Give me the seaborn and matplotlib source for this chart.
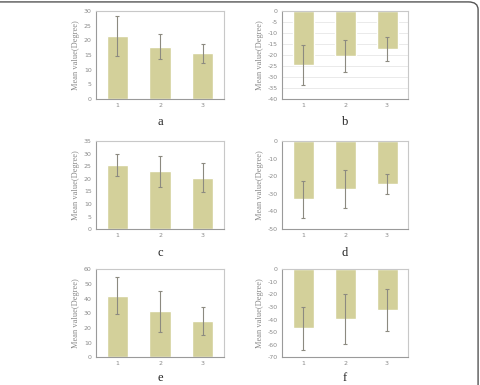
import numpy as np
import pandas as pd
import seaborn as sns
import matplotlib.pyplot as plt
from matplotlib.patches import FancyBboxPatch

groups = ["1", "2", "3"]

mean_a = [21.5, 17.8, 15.5]
err_a = [6.7, 4.2, 3.2]
mean_b = [-24.5, -20.5, -17.2]
err_b = [9.0, 7.1, 5.4]
mean_c = [25.5, 23.0, 20.5]
err_c = [4.5, 6.2, 5.8]
mean_d = [-33.0, -27.2, -24.5]
err_d = [10.5, 10.6, 5.7]
mean_e = [42.0, 31.5, 25.0]
err_e = [12.5, 14.0, 9.5]
mean_f = [-47.0, -39.5, -32.5]
err_f = [17.2, 19.7, 16.5]

ylims = {"a": (0, 30, 5), "b": (-40, 0, 5), "c": (0, 35, 5),
         "d": (-50, 0, 10), "e": (0, 60, 10), "f": (-70, 0, 10)}

panels = [("a", mean_a, err_a), ("b", mean_b, err_b),
          ("c", mean_c, err_c), ("d", mean_d, err_d),
          ("e", mean_e, err_e), ("f", mean_f, err_f)]

bar_color = "#d3d09a"
err_color = "#8c8a80"
text_gray = "#8a8a8a"
serif = ["Liberation Serif", "DejaVu Serif"]

sns.set_theme(style="white")
plt.rcParams["axes.unicode_minus"] = False

fig = plt.figure(figsize=(4.8, 3.85), dpi=100)

# rounded frame around the figure (only top and right visible)
fig.patches.append(FancyBboxPatch((-0.05, -0.05), 1.046, 1.045,
                                  boxstyle="round,pad=0,rounding_size=0.02",
                                  transform=fig.transFigure, fill=False,
                                  edgecolor="#555555", linewidth=1.0))

lefts = [0.2, 0.5875]
widths = [0.267, 0.2625]
bottoms = [0.743, 0.405, 0.072]
height = 0.2286

for i, (name, means, errs) in enumerate(panels):
    row, col = divmod(i, 2)
    ax = fig.add_axes([lefts[col], bottoms[row], widths[col], height])
    df = pd.DataFrame({"group": groups, "value": means})
    sns.barplot(data=df, x="group", y="value", color=bar_color, width=0.5,
                saturation=1, ax=ax)
    ax.errorbar(np.arange(len(groups)), means, yerr=errs, fmt="none",
                ecolor=err_color, elinewidth=0.8, capsize=1.5, capthick=0.8)
    lo, hi, step = ylims[name]
    ax.set_ylim(lo, hi)
    ax.set_yticks(np.arange(lo, hi + step / 2, step))
    ax.set_xlim(-0.5, 2.5)
    if name == "b":
        ax.yaxis.grid(True, color="#e6e6e6", linewidth=0.6)
        ax.set_axisbelow(True)
    ax.tick_params(axis="both", length=0, labelsize=4.5, colors=text_gray, pad=3)
    for sp in ax.spines.values():
        sp.set_color("#c8c8c8")
        sp.set_linewidth(0.8)
    ax.spines["left"].set_color("#9a9a9a")
    ax.spines["bottom"].set_color("#9a9a9a")
    ax.set_ylabel("Mean value(Degree)", fontsize=6, color=text_gray,
                  family=serif, labelpad=3)
    pad = 4 if row == 2 else 6
    ax.set_xlabel(name, fontsize=9, color="#222222", family=serif, labelpad=pad)

plt.savefig("out.png", dpi=100)
